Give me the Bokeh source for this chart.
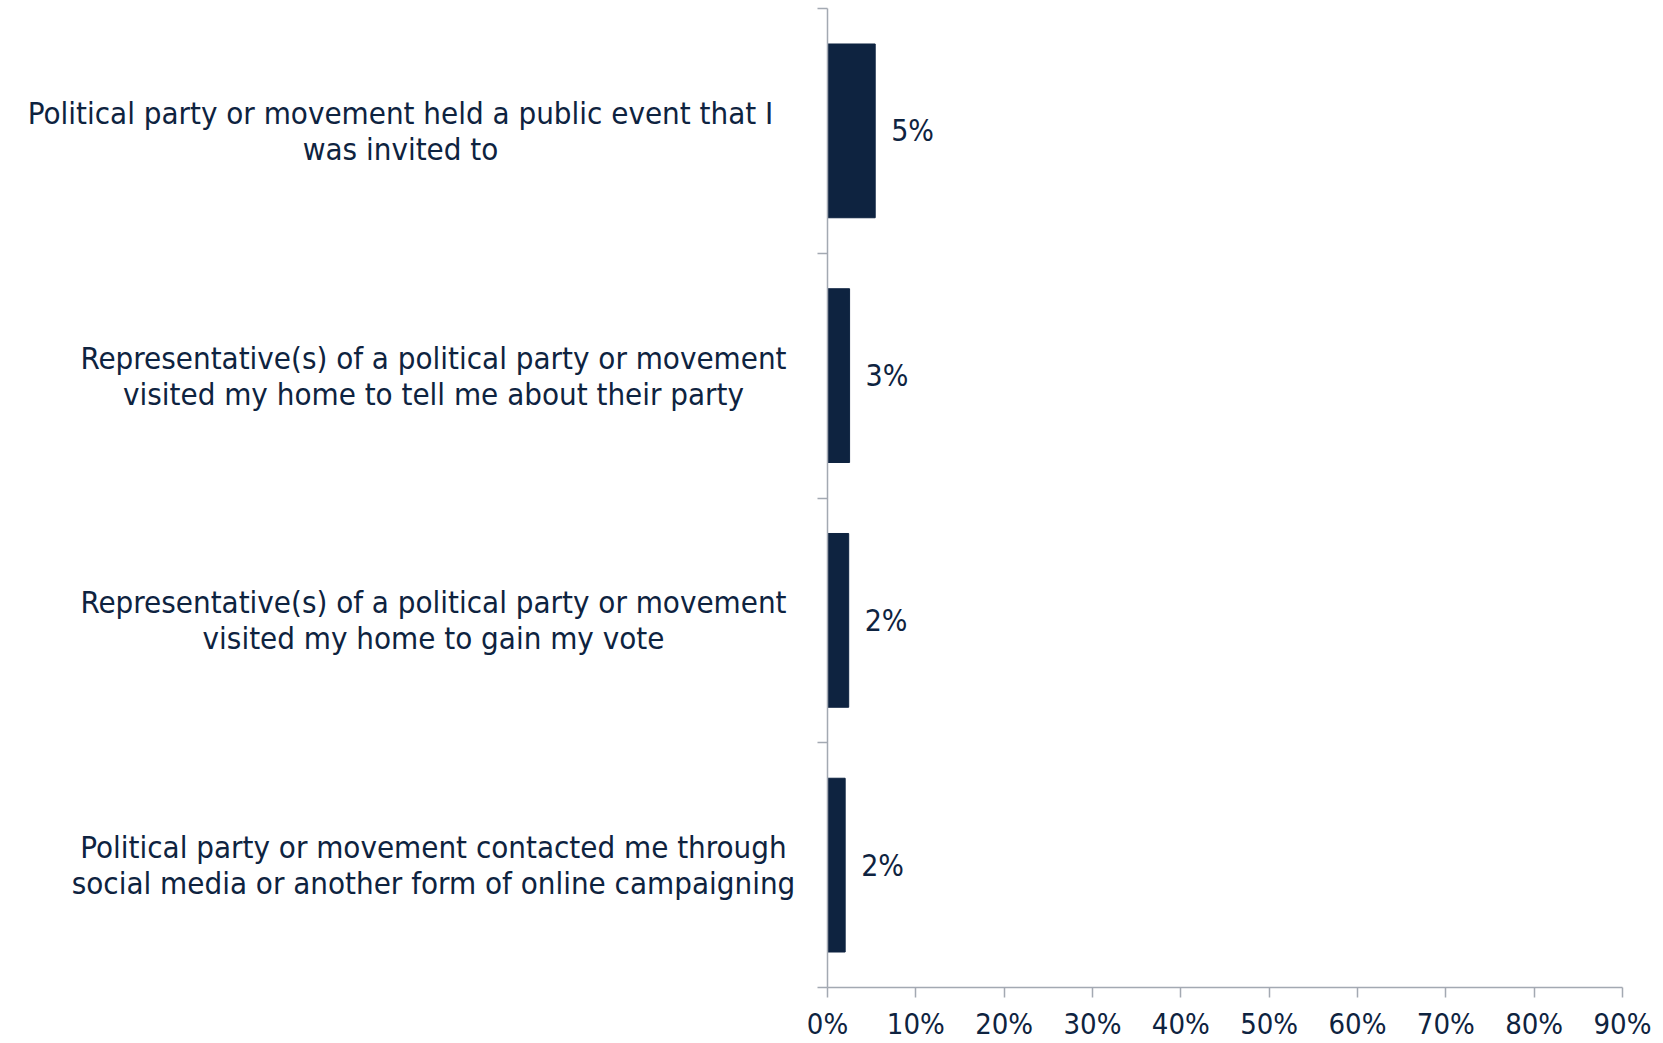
from bokeh.plotting import figure
from bokeh.layouts import row
from bokeh.models import Range1d, FixedTicker, ColumnDataSource
from bokeh.core.properties import value
from bokeh.embed import file_html
from bokeh.resources import INLINE

categories = [
    "Political party or movement held a public event that I\nwas invited to",
    "Representative(s) of a political party or movement\nvisited my home to tell me about their party",
    "Representative(s) of a political party or movement\nvisited my home to gain my vote",
    "Political party or movement contacted me through\nsocial media or another form of online campaigning",
]
values = [5.4, 2.5, 2.4, 2.0]
value_labels = ["5%", "3%", "2%", "2%"]
x_ticks = [0, 10, 20, 30, 40, 50, 60, 70, 80, 90]
x_tick_labels = ["0%", "10%", "20%", "30%", "40%", "50%", "60%", "70%", "80%", "90%"]
label_offsets = [-400, -367, -367, -367]

FONT = "DejaVu Sans Condensed"
NAVY = "#0E2340"
GREY = "#A3A9B2"
FS = "30px"

n = len(categories)
ys = [n - i - 0.5 for i in range(n)]

src = ColumnDataSource(dict(y=ys, v=values, lab=value_labels, cat=categories,
                            edge=[1] * n, off=label_offsets))


def style_xaxis(ax, visible=True):
    ax.ticker = FixedTicker(ticks=x_ticks)
    ax.major_label_overrides = {t: l for t, l in zip(x_ticks, x_tick_labels)}
    ax.major_label_text_font = FONT
    ax.major_label_text_font_size = "29px"
    ax.major_label_standoff = 9
    ax.major_tick_out = 10
    ax.major_tick_in = 0
    ax.minor_tick_line_color = None
    if visible:
        ax.major_label_text_color = NAVY
        ax.axis_line_color = GREY
        ax.axis_line_width = 1.5
        ax.major_tick_line_color = GREY
        ax.major_tick_line_width = 1.5
    else:
        ax.major_label_text_color = None
        ax.axis_line_color = None
        ax.major_tick_line_color = None


# left panel holding the category labels
left = figure(width=800, height=1043, output_backend="svg", toolbar_location=None,
              x_range=Range1d(0, 1), y_range=Range1d(0, n), y_axis_location=None,
              min_border_left=0, min_border_right=0, min_border_top=8,
              min_border_bottom=53)
left.outline_line_color = None
left.grid.grid_line_color = None
style_xaxis(left.xaxis[0], visible=False)
left.text(x="edge", y="y", text="cat", source=src, x_offset="off", text_align="center",
          text_baseline="middle", text_font=value(FONT), text_font_size="31px",
          text_color=NAVY, text_line_height=1.0)

p = figure(width=855, height=1043, output_backend="svg", toolbar_location=None,
           x_range=Range1d(0, 90), y_range=left.y_range,
           min_border_left=27, min_border_right=33, min_border_top=8,
           min_border_bottom=53)
p.outline_line_color = None
p.grid.grid_line_color = None

p.hbar(y="y", right="v", left=0, height=0.71, source=src, color=NAVY)
p.text(x="v", y="y", text="lab", source=src, x_offset=16, text_align="left",
       text_baseline="middle", text_font=value(FONT), text_font_size=FS,
       text_color=NAVY)

style_xaxis(p.xaxis[0])

ya = p.yaxis[0]
ya.ticker = FixedTicker(ticks=list(range(n + 1)))
ya.major_label_text_color = None
ya.major_label_text_font_size = "1px"
ya.major_label_standoff = 0
ya.axis_line_color = GREY
ya.axis_line_width = 1.5
ya.major_tick_line_color = GREY
ya.major_tick_line_width = 1.5
ya.major_tick_out = 10
ya.major_tick_in = 0
ya.minor_tick_line_color = None

layout = row(left, p)
open("out.html", "w").write(file_html(layout, INLINE))
